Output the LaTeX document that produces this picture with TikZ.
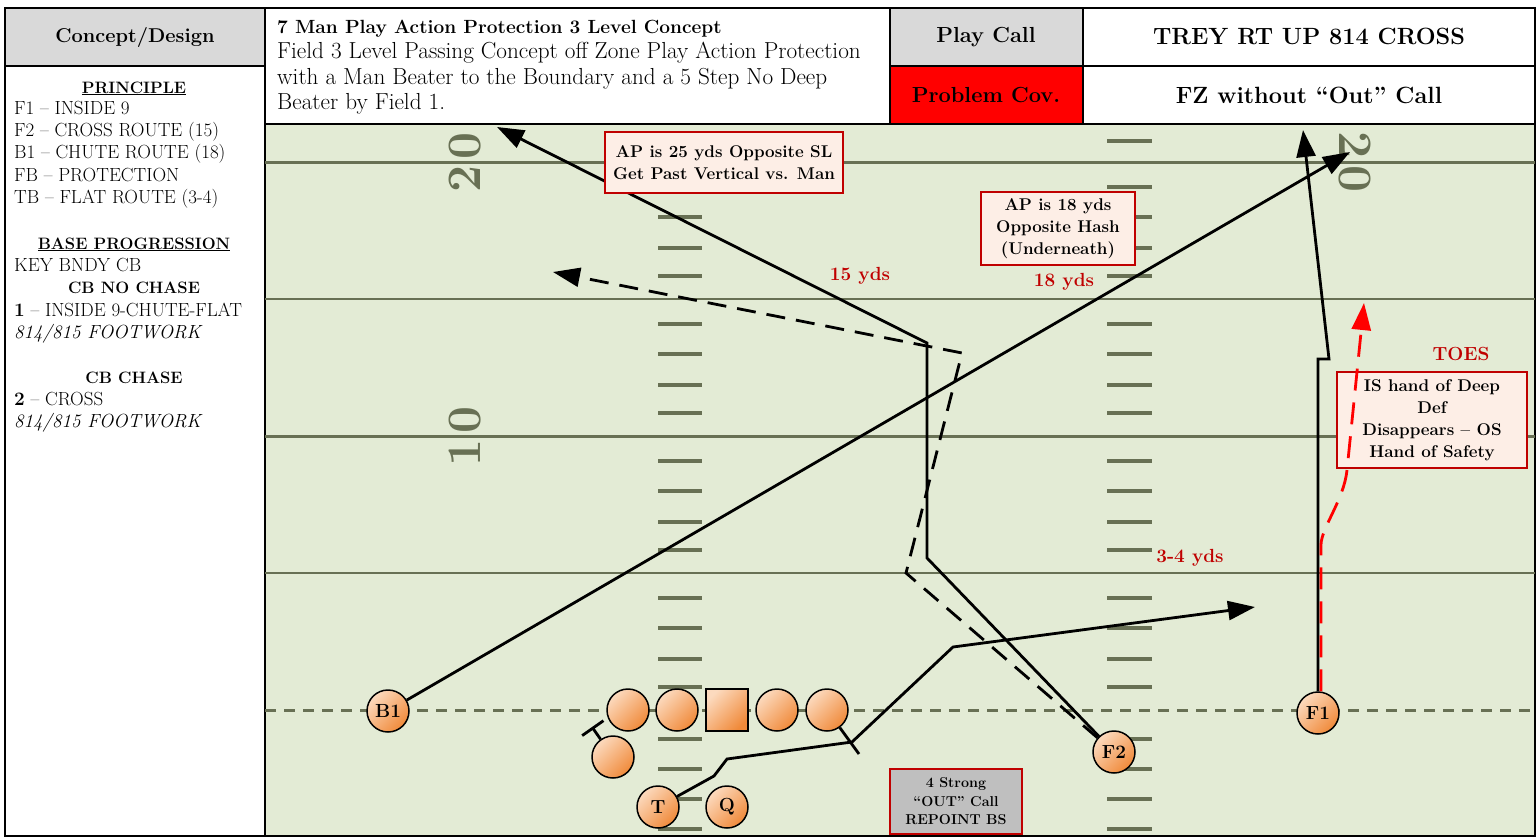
\documentclass[tikz,border=0pt]{standalone}
\usetikzlibrary{arrows.meta}

\definecolor{fieldGreen}{RGB}{227,235,213}
\definecolor{lineOlive}{RGB}{104,112,84}
\definecolor{hdrGray}{RGB}{217,217,217}
\definecolor{probRed}{RGB}{255,0,0}
\definecolor{noteRed}{RGB}{192,0,0}
\definecolor{notePink}{RGB}{253,238,230}
\definecolor{boxGray}{RGB}{191,191,191}
\definecolor{plLight}{RGB}{252,218,190}
\definecolor{plDark}{RGB}{240,138,58}
\definecolor{optRed}{RGB}{255,0,0}

\begin{document}
\begin{tikzpicture}[x=1pt, y=-1pt, >={Triangle[length=27pt,width=19pt]}]
			% --- Parametri ---
			\def\fieldL{265}
			\def\fieldR{1535}
			\def\fieldT{124}
			\def\fieldB{836}
			\def\los{710}
			\def\hashLa{658}
			\def\hashLb{702}
			\def\hashRa{1107}
			\def\hashRb{1152}
			
			% --- Stili ---
			\tikzset{
				cell/.style={draw=black, line width=1.6pt},
				hdrtxt/.style={font=\bfseries\fontsize{20}{24}\selectfont},
				bigtxt/.style={font=\bfseries\fontsize{23.5}{26}\selectfont},
				sidetxt/.style={anchor=base west, inner sep=0pt, font=\fontsize{19}{22}\selectfont},
				sidehead/.style={anchor=base, inner sep=0pt, font=\bfseries\fontsize{16.5}{20}\selectfont},
				sideital/.style={sidetxt, font=\itshape\fontsize{19}{22}\selectfont},
				ttltxt/.style={anchor=base west, inner sep=0pt, font=\fontsize{23.2}{26}\selectfont},
				yardline/.style={draw=lineOlive, line width=3pt},
				fiveline/.style={draw=lineOlive, line width=2pt},
				losline/.style={draw=lineOlive, line width=3pt, dash pattern=on 11pt off 8pt},
				hash/.style={draw=lineOlive, line width=3.5pt},
				yardnum/.style={text=lineOlive, font=\bfseries\fontsize{48}{48}\selectfont, inner sep=0pt},
				player/.style={circle, draw=black, line width=1.5pt, minimum size=42pt, inner sep=0pt,
					left color=plLight, right color=plDark, shading angle=45, font=\bfseries\fontsize{19}{19}\selectfont},
				route/.style={draw=black, line width=2.8pt},
				option/.style={route, dash pattern=on 19pt off 11pt},
				hot/.style={draw=optRed, line width=2.8pt, dash pattern=on 22pt off 12pt},
				notebox/.style={draw=noteRed, line width=2.5pt, fill=notePink, align=center, inner sep=0pt,
					font=\bfseries\fontsize{17}{22}\selectfont},
				yds/.style={text=noteRed, font=\bfseries\fontsize{19}{19}\selectfont}
			}
			
			\useasboundingbox (0,0) rectangle (1537,838);
			
			% --- Tabella ---
			\draw[cell, fill=hdrGray] (5,8) rectangle (265,66);
			\draw[cell, fill=white] (5,66) rectangle (265,836);
			\draw[cell, fill=white] (265,8) rectangle (890,124);
			\draw[cell, fill=hdrGray] (890,8) rectangle (1083,66);
			\draw[cell, fill=probRed] (890,66) rectangle (1083,124);
			\draw[cell, fill=white] (1083,8) rectangle (1535,66);
			\draw[cell, fill=white] (1083,66) rectangle (1535,124);
			\draw[cell, fill=fieldGreen] (\fieldL,\fieldT) rectangle (\fieldR,\fieldB);
			
			\node[hdrtxt] (cdhead) at (135,37) {Concept/Design};
			\node[hdrtxt, font=\bfseries\fontsize{21.8}{24}\selectfont] (callhead) at (986,37) {Play Call};
			\node[hdrtxt, font=\bfseries\fontsize{21.8}{24}\selectfont] (covhead) at (986,95) {Problem Cov.};
			\node[bigtxt] (playcall) at (1309,36) {TREY RT UP 814 CROSS};
			\node[bigtxt] (probcov) at (1309,95) {FZ without “Out” Call};
			
			\node[ttltxt, font=\bfseries\fontsize{19.1}{24}\selectfont] (ttl1) at (277,33) {7 Man Play Action Protection 3 Level Concept};
			\node[ttltxt] (ttl2) at (277,58) {Field 3 Level Passing Concept off Zone Play Action Protection};
			\node[ttltxt] (ttl3) at (277,84) {with a Man Beater to the Boundary and a 5 Step No Deep};
			\node[ttltxt] (ttl4) at (277,109) {Beater by Field 1.};
			
			% --- Colonna sinistra ---
			\node[sidehead] (princ) at (134,93) {\underline{PRINCIPLE}};
			\foreach \txt [count=\i] in {F1 – INSIDE 9, F2 – CROSS ROUTE (15), B1 – CHUTE ROUTE (18), FB – PROTECTION, TB – FLAT ROUTE (3-4)}
				\node[sidetxt] (prin\i) at (14,{114+22.4*(\i-1)}) {\txt};
			\node[sidehead] (baseprog) at (134,249) {\underline{BASE PROGRESSION}};
			\node[sidetxt] (keycb) at (14,271) {KEY BNDY CB};
			\node[sidehead] (nochase) at (134,293) {CB NO CHASE};
			\node[sidetxt] (readA) at (14,316) {\textbf{1} – INSIDE 9-CHUTE-FLAT};
			\node[sideital] (footA) at (14,338) {814/815 FOOTWORK};
			\node[sidehead] (chase) at (134,383) {CB CHASE};
			\node[sidetxt] (readB) at (14,405) {\textbf{2} – CROSS};
			\node[sideital] (footB) at (14,427) {814/815 FOOTWORK};
			
			% --- Campo ---
			\foreach \yl in {162,436}
				\draw[yardline] (\fieldL,\yl) -- (\fieldR,\yl);
			\foreach \yl in {299,573}
				\draw[fiveline] (\fieldL,\yl) -- (\fieldR,\yl);
			\foreach \hy in {141,739,769,799,829} {
				\draw[hash] (\hashLa,\hy) -- (\hashLb,\hy);
				\draw[hash] (\hashRa,\hy) -- (\hashRb,\hy);
			}
			\foreach \yl in {162,299,436,573}
				\foreach \off in {25,55,86,114} {
					\draw[hash] (\hashLa,{\yl+\off}) -- (\hashLb,{\yl+\off});
					\draw[hash] (\hashRa,{\yl+\off}) -- (\hashRb,{\yl+\off});
				}
			\draw[losline] (\fieldL,\los) -- (\fieldR,\los);
			
			\node[yardnum, rotate=90] (numA) at (465,162) {2\hspace{6pt}0};
			\node[yardnum, rotate=90] (numB) at (465,436) {1\hspace{6pt}0};
			\node[yardnum, rotate=-90] (numC) at (1355,162) {2\hspace{6pt}0};
			
			% --- Giocatori ---
			\node[player] (B1) at (388,711) {B1};
			\node[player] (lt) at (628,710) {};
			\node[player] (lg) at (677,710) {};
			\node[player, rectangle] (ctr) at (727,710) {};
			\node[player] (rg) at (777,710) {};
			\node[player] (rt) at (827,710) {};
			\node[player] (fb) at (613,757) {};
			\node[player] (TB) at (658,807) {T};
			\node[player] (QB) at (727,807) {Q};
			\node[player] (F2) at (1114,752) {F2};
			\node[player] (F1) at (1318,713) {F1};
			
			% --- Tracce ---
			\coordinate (b1end) at (1350,152);
			\draw[route, ->] (B1) -- (b1end);
			
			\coordinate (f2break) at (927,558);
			\coordinate (f2post) at (927,343);
			\coordinate (f2end) at (497,127);
			\draw[route, ->] (F2) -- (f2break) -- (f2post) -- (f2end);
			
			\coordinate (f2optA) at (906,573);
			\coordinate (f2optB) at (962,353);
			\coordinate (f2optend) at (553,272);
			\draw[option, ->] (F2) -- (f2optA) -- (f2optB) -- (f2optend);
			
			\coordinate (f1stem) at (1318,359);
			\coordinate (f1jog) at (1329,359);
			\coordinate (f1end) at (1303,130);
			\draw[route, ->] (F1) -- (f1stem) -- (f1jog) -- (f1end);
			
			\coordinate (tbA) at (714,776);
			\coordinate (tbB) at (727,759);
			\coordinate (tbC) at (852,742);
			\coordinate (tbD) at (953,647);
			\coordinate (tbend) at (1255,607);
			\draw[route, ->] (TB) -- (tbA) -- (tbB) -- (tbC) -- (tbD) -- (tbend);
			
			% blocchi
			\coordinate (fbblk) at (592,727);
			\draw[route, -{Bar[width=26pt]}] (fb) -- (fbblk);
			\coordinate (rtblk) at (859,754);
			\draw[route] (rt) -- (rtblk);
			
			% --- Note ---
			\node[notebox, minimum width=238pt, minimum height=61pt] (apdeep) at (724,162.5) {AP is 25 yds Opposite SL\\Get Past Vertical vs. Man};
			\node[notebox, minimum width=154pt, minimum height=73pt] (apunder) at (1058,228.5) {AP is 18 yds\\Opposite Hash\\(Underneath)};
			\node[notebox, minimum width=190pt, minimum height=96pt] (toesbox) at (1432,420) {IS hand of Deep\\Def\\Disappears – OS\\Hand of Safety};
			\node[notebox, fill=boxGray, minimum width=132pt, minimum height=65pt, font=\bfseries\fontsize{14.3}{18.5}\selectfont] (outcall) at (956,801.5) {4 Strong\\“OUT” Call\\REPOINT BS};
			
			% --- Opzione rossa ---
			\coordinate (hotA) at ([xshift=3pt]F1.north);
			\coordinate (hotB) at (1321,545);
			\coordinate (hotC) at (1347,470);
			\coordinate (hotend) at (1364,303);
			\draw[hot, ->] (hotA) -- (hotB) .. controls (1321,528) and (1344,500) .. (hotC) -- (hotend);
			
			% --- Etichette ---
			\node[yds] (ydsA) at (860,276) {15 yds};
			\node[yds] (ydsB) at (1064,282) {18 yds};
			\node[yds] (ydsC) at (1190,558) {3-4 yds};
			\node[yds] (toes) at (1461,354) {TOES};
\end{tikzpicture}
\end{document}
